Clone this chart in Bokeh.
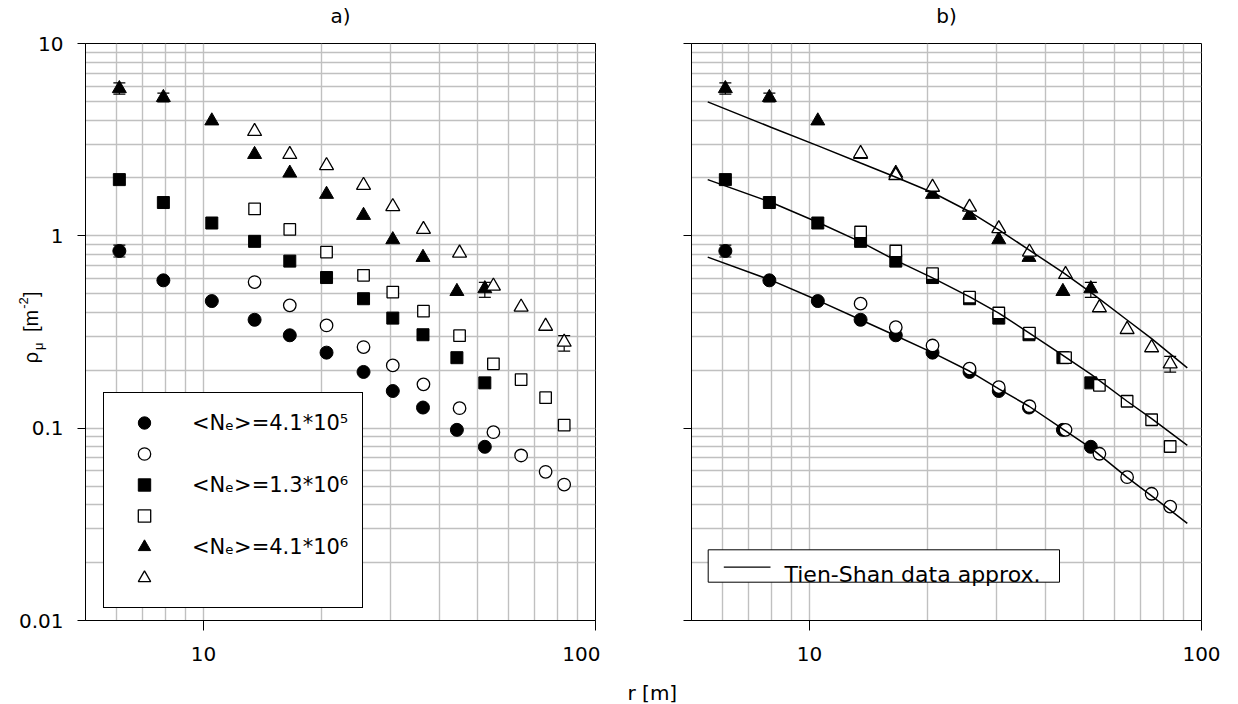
import math
from bokeh.plotting import figure
from bokeh.models import (FixedTicker, NumeralTickFormatter, CustomJSTickFormatter, Label,
                          BoxAnnotation, Arrow, Legend, LegendItem, Whisker, TeeHead,
                          ColumnDataSource, Range1d, GridBox)
from bokeh.layouts import row
from bokeh.embed import file_html
from bokeh.resources import INLINE
from bokeh.core.properties import value

# ---------------- data ----------------
r_filled = [6.1, 7.9, 10.5, 13.5, 16.6, 20.6, 25.6, 30.4, 36.3, 44.3, 52.2]
r_open = [13.5, 16.6, 20.6, 25.6, 30.4, 36.4, 45.0, 54.9, 64.6, 74.6, 83.2]

# <Ne>=4.1*10^5
circ_filled = [0.834, 0.587, 0.458, 0.366, 0.304, 0.247, 0.196, 0.156, 0.128, 0.098, 0.080]
circ_open_a = [0.575, 0.435, 0.342, 0.264, 0.212, 0.169, 0.127, 0.0953, 0.0721, 0.0593, 0.0509]
circ_open_b = [0.444, 0.335, 0.269, 0.204, 0.1634, 0.130, 0.098, 0.0736, 0.0556, 0.0456, 0.0391]
# <Ne>=1.3*10^6
sq_filled = [1.96, 1.49, 1.166, 0.936, 0.739, 0.607, 0.471, 0.3735, 0.306, 0.2325, 0.172]
sq_open_a = [1.38, 1.08, 0.823, 0.623, 0.510, 0.406, 0.3025, 0.216, 0.179, 0.144, 0.1036]
sq_open_b = [1.047, 0.834, 0.636, 0.480, 0.397, 0.312, 0.2325, 0.167, 0.138, 0.1106, 0.0803]
# <Ne>=4.1*10^6
tri_filled = [5.83, 5.24, 3.96, 2.65, 2.12, 1.644, 1.278, 0.955, 0.773, 0.514, 0.531]
tri_open_a = [3.49, 2.65, 2.32, 1.83, 1.42, 1.08, 0.814, 0.548, 0.426, 0.339, 0.280]
tri_open_b = [2.68, 2.06, 1.79, 1.41, 1.09, 0.823, 0.63, 0.423, 0.326, 0.262, 0.216]

# error bars
err_r = [6.1, 7.9, 6.1, 52.2, 83.2]
err_lo_a = [5.45, 4.97, 0.776, 0.479, 0.2516]
err_hi_a = [6.24, 5.52, 0.895, 0.573, 0.3025]
err_lo_b = [5.45, 4.97, 0.776, 0.479, 0.1956]
err_hi_b = [6.24, 5.52, 0.895, 0.573, 0.236]

# Tien-Shan approximation curves (panel b)
fit_r = [5.5, 8.0, 10.6, 13.5, 16.5, 20.6, 25.7, 30.4, 36.3, 44.3, 52.4, 64.6, 74.6, 92.0]
fit_top = [4.97, 3.66, 2.92, 2.39, 2.03, 1.68, 1.33, 1.075, 0.845, 0.645, 0.505, 0.365, 0.292, 0.206]
fit_mid = [1.96, 1.49, 1.166, 0.93, 0.75, 0.605, 0.48, 0.396, 0.313, 0.239, 0.19, 0.138, 0.112, 0.0813]
fit_bot = [0.775, 0.587, 0.458, 0.366, 0.304, 0.247, 0.197, 0.160, 0.130, 0.099, 0.0785, 0.0555, 0.0445, 0.032]

x_major = [10, 100]
y_major = [0.01, 0.1, 1, 10]
legend_labels = ["<Nₑ>=4.1*10⁵", "", "<Nₑ>=1.3*10⁶", "", "<Nₑ>=4.1*10⁶", ""]

# ---------------- layout constants (pixels) ----------------
W, H = 1238, 704
X0, X1, Y0, Y1 = 5, 100, 0.01, 10
FW, FH = 510, 577
TOP = 43
BOTTOM = H - TOP - FH
WA = 600
LEFT_A, LEFT_B = 85, 91
XDEC = FW / math.log10(X1 / X0)
YDEC = FH / math.log10(Y1 / Y0)
FONT = "DejaVu Sans"
FONT_Y = "Liberation Sans"
GRID = "#c0c0c0"

x_minor = [k * 10 ** e for e in (0, 1) for k in range(2, 10) if X0 <= k * 10 ** e <= X1]
y_minor = [k * 10 ** e for e in (-2, -1, 0) for k in range(2, 10)]


def make_fig(bl, width):
    p = figure(x_axis_type="log", y_axis_type="log",
               x_range=Range1d(X0, X1), y_range=Range1d(Y0, Y1),
               frame_width=FW, frame_height=FH,
               min_border_left=bl, min_border_right=width - bl - FW,
               min_border_top=TOP, min_border_bottom=BOTTOM,
               output_backend="svg", toolbar_location=None,
               background_fill_color="white", border_fill_color="white")
    p.outline_line_color = "black"
    p.outline_line_alpha = 1
    p.outline_line_width = 1
    p.xaxis.ticker = FixedTicker(ticks=x_major, minor_ticks=x_minor)
    p.yaxis.ticker = FixedTicker(ticks=y_major, minor_ticks=y_minor)
    p.xaxis.formatter = NumeralTickFormatter(format="0")
    p.yaxis.formatter = NumeralTickFormatter(format="0.[00]")
    for ax in p.axis:
        ax.axis_line_color = "black"
        ax.major_tick_line_color = "black"
        ax.minor_tick_line_color = None
        ax.major_tick_in = 0
        ax.major_label_text_font = FONT
        ax.major_label_text_font_size = "20px"
        ax.major_label_text_color = "black"
    p.xaxis.major_tick_out = 10
    p.xaxis.major_label_standoff = 16
    p.yaxis.major_tick_out = 8
    p.yaxis.major_label_standoff = 14
    for g in p.grid:
        g.grid_line_color = GRID
        g.grid_line_width = 1.4
        g.minor_grid_line_color = GRID
        g.minor_grid_line_width = 1.4
    return p


def conv(frame_left_px):
    def fx(px):
        return X0 * 10 ** ((px - frame_left_px) / XDEC)
    return fx


def fy(py):
    return Y1 * 10 ** (-(py - TOP) / YDEC)


def add_series(p, oc, osq, otri):
    rs = {}
    rs["fc"] = p.scatter(r_filled, circ_filled, marker="circle", size=13,
                         fill_color="black", line_color="black")
    rs["fs"] = p.scatter(r_filled, sq_filled, marker="square", size=12,
                         fill_color="black", line_color="black")
    rs["ft"] = p.scatter(r_filled, tri_filled, marker="triangle", size=14,
                         fill_color="black", line_color="black")
    rs["oc"] = p.scatter(r_open, oc, marker="circle", size=12.5,
                         fill_color="white", line_color="black", line_width=1.3)
    rs["os"] = p.scatter(r_open, osq, marker="square", size=11.5,
                         fill_color="white", line_color="black", line_width=1.3)
    rs["ot"] = p.scatter(r_open, otri, marker="triangle", size=14,
                         fill_color="white", line_color="black", line_width=1.3)
    return rs


def add_err(p, lo, hi):
    src = ColumnDataSource(dict(base=err_r, lower=lo, upper=hi))
    p.add_layout(Whisker(source=src, base="base", lower="lower", upper="upper",
                         dimension="height", line_color="black", line_width=1.2,
                         upper_head=TeeHead(size=12, line_color="black", line_width=1.2),
                         lower_head=TeeHead(size=12, line_color="black", line_width=1.2)))


# ---------------- panel a ----------------
pa = make_fig(LEFT_A, WA)
add_err(pa, err_lo_a, err_hi_a)
ra = add_series(pa, circ_open_a, sq_open_a, tri_open_a)

order = ["fc", "oc", "fs", "os", "ft", "ot"]
items = [LegendItem(label=value(lbl), renderers=[ra[k]]) for k, lbl in zip(order, legend_labels)]
leg = Legend(items=items, location=(18, 12), orientation="vertical",
             padding=14, spacing=0, margin=0,
             glyph_width=52, glyph_height=31, label_standoff=22, label_width=130,
             label_text_font=FONT, label_text_font_size="21px", label_text_color="black",
             border_line_color="black", border_line_width=1, border_line_alpha=1,
             background_fill_color="white", background_fill_alpha=1)
pa.add_layout(leg)

# ---------------- panel b ----------------
pb = make_fig(LEFT_B, W - WA)
fxb = conv(WA + LEFT_B)
pb.yaxis.formatter = CustomJSTickFormatter(code="return ''")
add_err(pb, err_lo_b, err_hi_b)
add_series(pb, circ_open_b, sq_open_b, tri_open_b)
for fit in (fit_top, fit_mid, fit_bot):
    pb.line(fit_r, fit, line_color="black", line_width=1.5)

pb.add_layout(BoxAnnotation(left=fxb(707.7), right=fxb(1059), top=fy(549.3), bottom=fy(581.7),
                            fill_color="white", fill_alpha=1, line_color="black",
                            line_alpha=1, line_width=1))
pb.add_layout(Arrow(end=None, x_start=fxb(723.3), x_end=fxb(770), y_start=fy(566.7),
                    y_end=fy(566.7), line_color="black", line_width=1.3))
pb.add_layout(Label(x=fxb(784), y=fy(574), text="Tien-Shan data approx.",
                    text_align="left", text_baseline="alphabetic", text_font=FONT,
                    text_font_size="22px", text_color="black"))

# ---------------- overlay canvas for the free texts (pixel coordinates) ----------------
ov = figure(width=W, height=H, x_range=Range1d(0, W), y_range=Range1d(H, 0),
            min_border=0, x_axis_location=None, y_axis_location=None,
            output_backend="svg", toolbar_location=None)
ov.grid.visible = False
ov.outline_line_color = None
ov.background_fill_alpha = 0
ov.border_fill_alpha = 0


def ov_text(txt, x, y, size, font=FONT, align="left", angle=0.0):
    ov.add_layout(Label(x=x, y=y, text=txt, angle=angle, text_align=align,
                        text_baseline="alphabetic", text_font=font,
                        text_font_size=size, text_color="black"))


ov_text("a)", LEFT_A + FW / 2, 15, "20px", align="center")
ov_text("b)", WA + LEFT_B + FW / 2, 15, "20px", align="center")
ov_text("r  [m]", 627, 692, "20px")
# rotated y-axis label  rho_mu [m^-2]
for txt, bx, sy, fs in [("ρ", 30, 362.7, "20px"), ("μ", 37.5, 349.5, "13px"),
                        ("[m", 30, 331.5, "20px"), ("-2", 22.5, 308.3, "13px"),
                        ("]", 30, 296.5, "20px")]:
    ov_text(txt, bx, sy, fs, font=FONT_Y, angle=math.pi / 2)

layout = GridBox(children=[(row(pa, pb), 0, 0), (ov, 0, 0)])
open("out.html", "w").write(file_html(layout, INLINE))
